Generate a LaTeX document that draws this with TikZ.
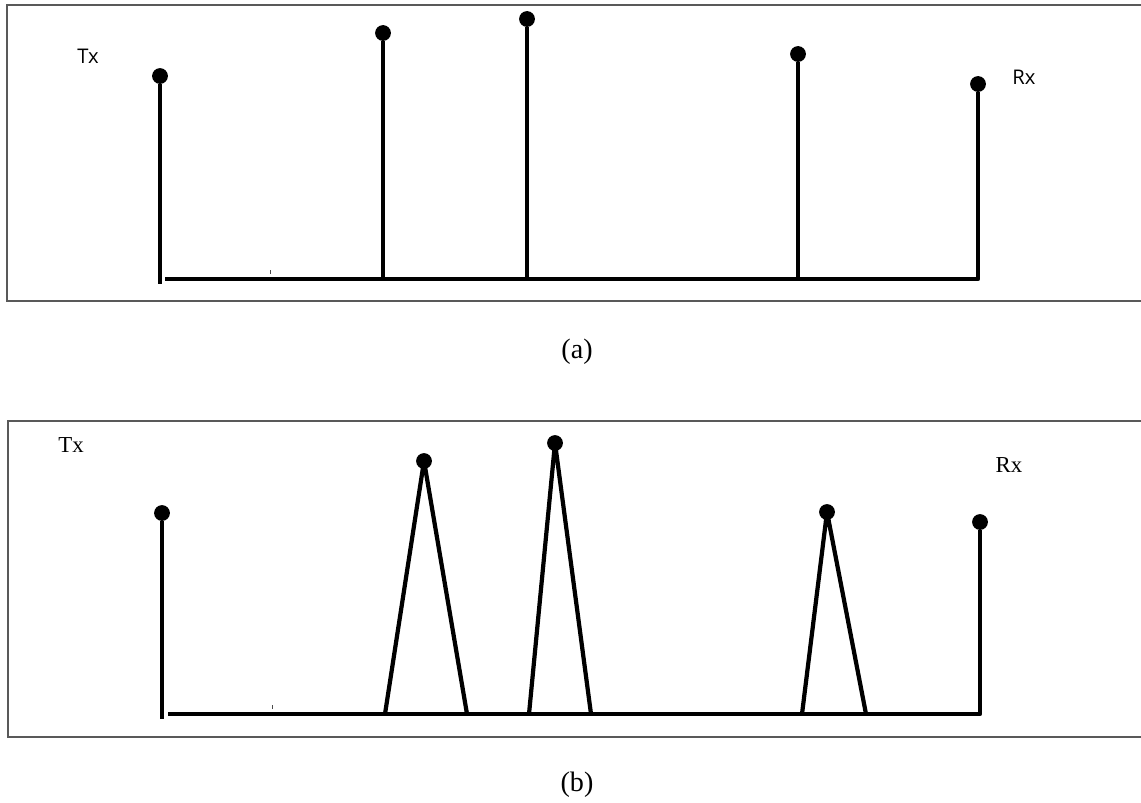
\documentclass[tikz,border=0pt]{standalone}
\usepackage{fontspec}
\setmainfont{Liberation Serif}
\newfontfamily\sanslabel{Open Sans}
\usepackage{tikz}
\usetikzlibrary{positioning}

\begin{document}
\begin{tikzpicture}[x=0.02cm, y=-0.02cm,
    frame/.style={draw=black!65, line width=0.8pt},
    stem/.style={line width=2.4pt, line join=round},
    tip/.style={circle, fill=black, inner sep=0pt, minimum size=9pt},
    tick/.style={black!70, line width=0.5pt},
    caption/.style={font=\fontsize{16}{18}\selectfont}
]
\useasboundingbox (0,0) rectangle (1141,802);

% (a) frame
\draw[frame] (1141,5) -- (7,5) -- (7,301) -- (1141,301);

% (a) end points
\node[tip] (txa) at (160,76) {};
\coordinate (txafoot) at (160,284);
\node[tip] (rxa) at (978,84) {};
\coordinate (rxafoot) at (978,279);
\coordinate (basea) at (165,279);
\draw[stem] (txa) -- (txafoot);
\draw[stem] (rxa) -- (rxafoot) -- (basea);

% (a) direct paths
\foreach \x/\y [count=\i] in {383/33, 527/19, 798/54} {
    \node[tip] (pa\i) at (\x,\y) {};
    \coordinate (fa\i) at (\x,279);
    \draw[stem] (pa\i) -- (fa\i);
}

\node[font=\sanslabel\fontsize{11.5}{13}\selectfont] (txalab) at (88,56) {Tx};
\node[font=\sanslabel\fontsize{11.5}{13}\selectfont] (rxalab) at (1024,77) {Rx};
\draw[tick] (270,270) -- (270,274);

\node[caption] (capa) at (577,352) {(a)};

% (b) frame
\draw[frame] (1141,421) -- (8,421) -- (8,737) -- (1141,737);

% (b) end points
\node[tip] (txb) at (162,513) {};
\coordinate (txbfoot) at (162,719);
\node[tip] (rxb) at (980,522) {};
\coordinate (rxbfoot) at (980,714);
\coordinate (baseb) at (168,714);
\draw[stem] (txb) -- (txbfoot);
\draw[stem] (rxb) -- (rxbfoot) -- (baseb);

% (b) spread paths
\foreach \x/\y/\l/\r [count=\i] in {424/461/385/467, 555/443/529/591, 827/512/802/866} {
    \node[tip] (pb\i) at (\x,\y) {};
    \coordinate (lb\i) at (\l,714);
    \coordinate (rb\i) at (\r,714);
    \draw[stem] (lb\i) -- (pb\i.center) -- (rb\i);
}

\node[font=\fontsize{13}{15}\selectfont] (txblab) at (71,445) {Tx};
\node[font=\fontsize{13}{15}\selectfont] (rxblab) at (1009,465) {Rx};
\draw[tick] (272,705) -- (272,709);

\node[caption] (capb) at (577,785) {(b)};

\end{tikzpicture}
\end{document}
